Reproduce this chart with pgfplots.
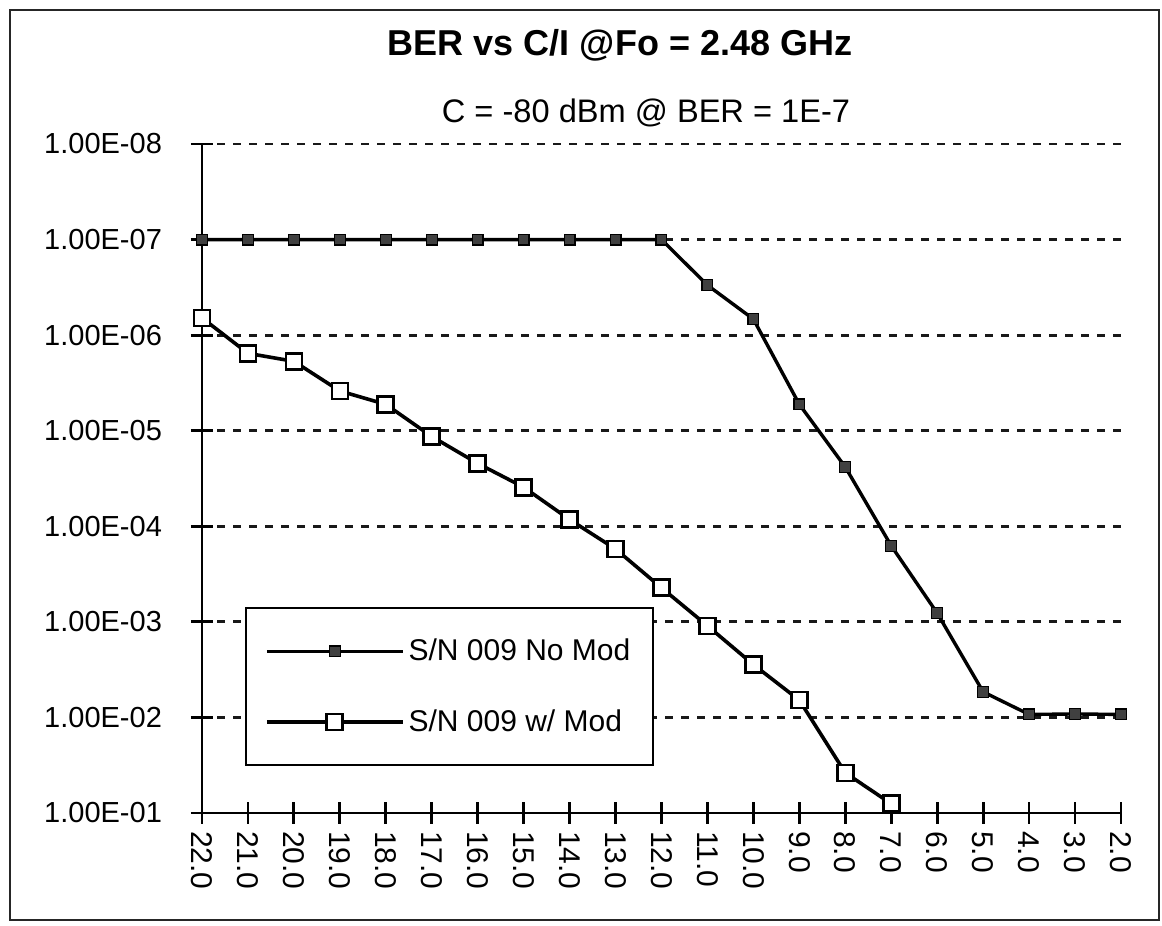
\documentclass[border=0pt]{standalone}
\usepackage{pgfplots}
\pgfplotsset{compat=1.18}
\usepackage{fontspec}
\setmainfont{Liberation Sans}

\begin{document}
\begin{tikzpicture}
\useasboundingbox (0pt,0pt) rectangle (581pt,-463pt);
\draw[line width=1pt, black!85] (5pt,-5pt) rectangle (579.5pt,-460pt);
\node[font=\bfseries\fontsize{18}{21}\selectfont] at (310pt,-22.5pt) {BER vs C/I @Fo = 2.48 GHz};
\node[font=\fontsize{16.3}{19}\selectfont] at (323pt,-56.5pt) {C = -80 dBm @ BER = 1E-7};
\begin{axis}[
  at={(101pt,-406.5pt)}, anchor=south west,
  scale only axis, width=459.5pt, height=334.5pt,
  ymode=log, x dir=reverse, y dir=reverse,
  xmin=2, xmax=22, ymin=1e-8, ymax=1e-1,
  axis x line=bottom, axis y line=left,
  axis line style={-, line width=1.4pt, black},
  xtick={2,...,22},
  xticklabels={2.0,3.0,4.0,5.0,6.0,7.0,8.0,9.0,10.0,11.0,12.0,13.0,14.0,15.0,16.0,17.0,18.0,19.0,20.0,21.0,22.0},
  ytick={1e-8,1e-7,1e-6,1e-5,1e-4,1e-3,1e-2,1e-1},
  yticklabels={1.00E-08,1.00E-07,1.00E-06,1.00E-05,1.00E-04,1.00E-03,1.00E-02,1.00E-01},
  yminorticks=false,
  tick align=center, major tick length=11pt,
  tick style={line width=1.4pt, black},
  ymajorgrids,
  grid style={line width=1.4pt, black!90, dash pattern=on 4pt off 4pt},
  xticklabel style={rotate=-90, anchor=west, font=\fontsize{15}{18}\selectfont},
  yticklabel style={font=\fontsize{14.5}{17}\selectfont, xshift=-11pt},
  legend style={at={(0.0468,0.308)}, anchor=north west, draw=black, line width=1pt,
    font=\fontsize{15}{18}\selectfont, inner xsep=9.5pt, inner ysep=13.5pt, row sep=19pt,
    /tikz/every even column/.append style={column sep=11pt}},
  legend cell align=left,
  legend image code/.code={\draw[mark repeat=2,mark phase=2] plot coordinates {(0pt,0pt) (34pt,0pt) (68pt,0pt)};},
]
\addplot[black, line width=1.7pt, mark=square*, mark size=2.7pt,
  mark options={fill=black!75, draw=black, line width=0.6pt}] coordinates {
  (22,1e-7) (21,1e-7) (20,1e-7) (19,1e-7) (18,1e-7) (17,1e-7) (16,1e-7)
  (15,1e-7) (14,1e-7) (13,1e-7) (12,1e-7) (11,3.0e-7) (10,6.8e-7)
  (9,5.3e-6) (8,2.4e-5) (7,1.6e-4) (6,8.1e-4) (5,5.4e-3) (4,9.3e-3)
  (3,9.2e-3) (2,9.3e-3)};
\addlegendentry{S/N 009 No Mod}
\addplot[black, line width=1.8pt, mark=square*, mark size=4pt,
  mark options={fill=white, draw=black, line width=1.3pt}] coordinates {
  (22,6.6e-7) (21,1.55e-6) (20,1.88e-6) (19,3.84e-6) (18,5.3e-6)
  (17,1.15e-5) (16,2.2e-5) (15,3.9e-5) (14,8.5e-5) (13,1.73e-4)
  (12,4.4e-4) (11,1.1e-3) (10,2.8e-3) (9,6.6e-3) (8,3.8e-2) (7,8.0e-2)};
\addlegendentry{S/N 009 w/ Mod}
\end{axis}
\end{tikzpicture}
\end{document}
